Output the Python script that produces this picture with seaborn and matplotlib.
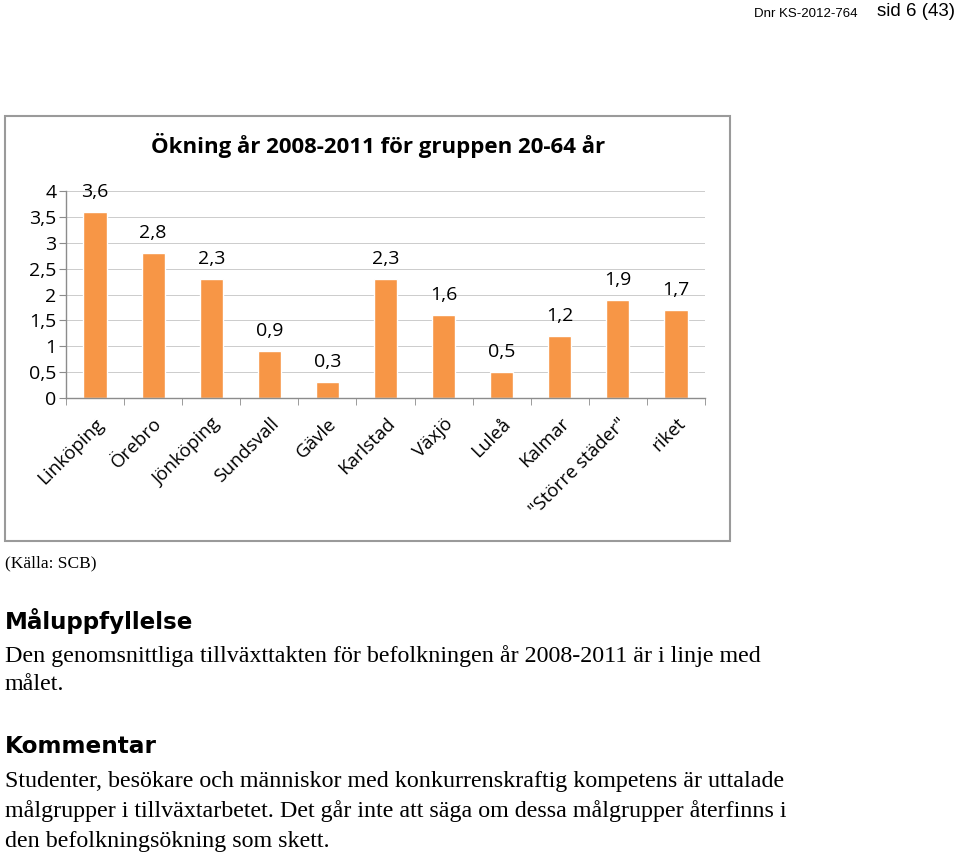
import numpy as np
import pandas as pd
import matplotlib
matplotlib.use('Agg')
import matplotlib.pyplot as plt
import seaborn as sns
from matplotlib.patches import Rectangle
from matplotlib.ticker import FuncFormatter, FixedLocator

# chart data
cities = ['Linköping', 'Örebro', 'Jönköping', 'Sundsvall', 'Gävle', 'Karlstad',
          'Växjö', 'Luleå', 'Kalmar', '"Större städer"', 'riket']
increase = [3.6, 2.8, 2.3, 0.9, 0.3, 2.3, 1.6, 0.5, 1.2, 1.9, 1.7]
y_ticks = [0, 0.5, 1, 1.5, 2, 2.5, 3, 3.5, 4]

title = 'Ökning år 2008-2011 för gruppen 20-64 år'

sns.set_style('white')
plt.rcParams['font.family'] = ['Open Sans', 'DejaVu Sans']
plt.rcParams['text.color'] = 'black'
plt.rcParams['xtick.color'] = 'black'
plt.rcParams['ytick.color'] = 'black'

df = pd.DataFrame({'stad': cities, 'okning': increase})

fig = plt.figure(figsize=(9.6, 8.55), dpi=100)

# grey frame around the chart
fig.patches.append(Rectangle((5 / 960, 1 - 541 / 855), 725 / 960, 425 / 855,
                             transform=fig.transFigure, fill=False,
                             edgecolor='#9a9a9a', linewidth=1.5))

ax = fig.add_axes([66 / 960, 1 - 398 / 855, 639 / 960, 207 / 855])
sns.barplot(data=df, x='stad', y='okning', color='#F79646', saturation=1,
            width=0.4, ax=ax)

ax.set_xlim(-0.5, len(cities) - 0.5)
ax.set_ylim(0, 4)
ax.yaxis.set_major_locator(FixedLocator(y_ticks))
ax.yaxis.set_major_formatter(FuncFormatter(lambda v, p: f'{v:g}'.replace('.', ',')))
ax.grid(axis='y', color='#cccccc', linewidth=0.7)
ax.set_axisbelow(True)
ax.set_xlabel('')
ax.set_ylabel('')

for s in ['top', 'right']:
    ax.spines[s].set_visible(False)
for s in ['left', 'bottom']:
    ax.spines[s].set_color('#8c8c8c')
    ax.spines[s].set_linewidth(1.0)

ax.tick_params(axis='y', left=True, length=5, color='#8c8c8c', labelcolor='black',
               labelsize=14, pad=2)
ax.xaxis.set_minor_locator(FixedLocator(np.arange(-0.5, len(cities), 1)))
ax.tick_params(axis='x', which='minor', bottom=True, length=5, color='#8c8c8c')
ax.tick_params(axis='x', which='major', bottom=False, length=0, pad=12,
               labelcolor='black')
plt.setp(ax.get_xticklabels(), rotation=45, ha='right', rotation_mode='anchor',
         fontsize=13.5)

labels = [f'{v:.1f}'.replace('.', ',') for v in increase]
ax.bar_label(ax.containers[0], labels=labels, padding=8, fontsize=14)

fig.text(378 / 960, 1 - 146 / 855, title, ha='center', va='center',
         fontsize=16, fontweight='bold')

# page text
sans = ['Liberation Sans', 'DejaVu Sans']
fig.text(857 / 960, 1 - 14 / 855, 'Dnr KS-2012-764', ha='right', va='center',
         fontsize=9.5, family=sans)
fig.text(955 / 960, 1 - 11 / 855, 'sid 6 (43)', ha='right', va='center',
         fontsize=13.5, family=sans)

serif = ['Liberation Serif', 'DejaVu Serif']
fig.text(5 / 960, 1 - 563 / 855, '(Källa: SCB)', ha='left', va='center',
         fontsize=12.5, family=serif)
fig.text(5 / 960, 1 - 621 / 855, 'Måluppfyllelse', ha='left', va='center',
         fontsize=16.6, fontweight='bold', family=['DejaVu Sans'])
fig.text(5 / 960, 1 - 656 / 855,
         'Den genomsnittliga tillväxttakten för befolkningen år 2008-2011 är i linje med',
         ha='left', va='center', fontsize=17.3, family=serif)
fig.text(5 / 960, 1 - 684 / 855, 'målet.', ha='left', va='center',
         fontsize=17.3, family=serif)
fig.text(5 / 960, 1 - 746 / 855, 'Kommentar', ha='left', va='center',
         fontsize=16.7, fontweight='bold', family=['DejaVu Sans'])
body = ['Studenter, besökare och människor med konkurrenskraftig kompetens är uttalade',
        'målgrupper i tillväxtarbetet. Det går inte att säga om dessa målgrupper återfinns i',
        'den befolkningsökning som skett.']
for i, line in enumerate(body):
    fig.text(5 / 960, 1 - (781 + i * 30) / 855, line, ha='left', va='center',
             fontsize=17.3, family=serif)

fig.savefig('out.png', dpi=100)
